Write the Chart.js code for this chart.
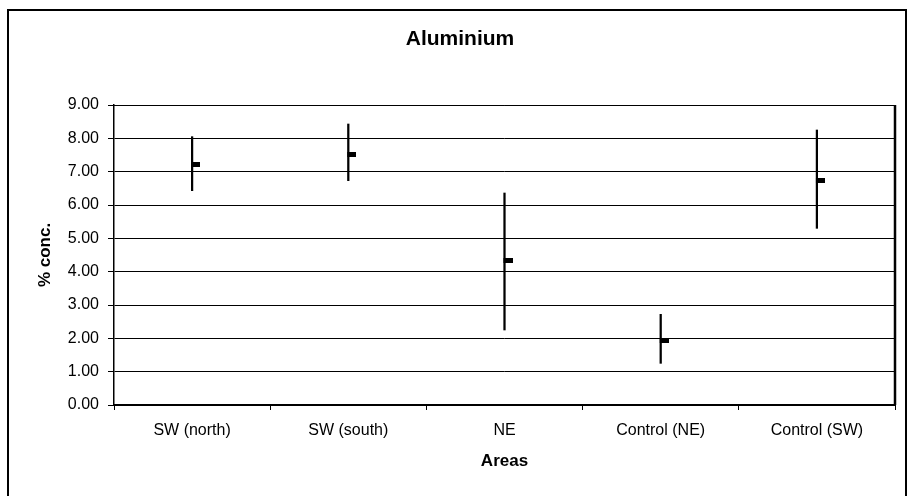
<!DOCTYPE html>
<html>
<head>
<meta charset="utf-8">
<title>Aluminium</title>
<script src="https://cdn.jsdelivr.net/npm/chart.js@4"></script>
<style>
  html, body { margin: 0; padding: 0; background: #fff; }
  #wrap { width: 908px; height: 496px; position: relative; }
</style>
</head>
<body>
<div id="wrap"><canvas id="js-chartjs-aluminium"></canvas></div>
<script>
// Chart data
const areas = ['SW (north)', 'SW (south)', 'NE', 'Control (NE)', 'Control (SW)'];
const highValues = [8.05, 8.43, 6.36, 2.72, 8.25];
const lowValues = [6.43, 6.73, 2.25, 1.25, 5.30];
const meanValues = [7.23, 7.52, 4.33, 1.95, 6.73];
const yTickValues = [0, 1, 2, 3, 4, 5, 6, 7, 8, 9];

const fontFamily = '"Liberation Sans", Arial, sans-serif';

// Small black dash used as the mean marker (sits just right of the line)
const markerCanvas = document.createElement('canvas');
markerCanvas.width = 16;
markerCanvas.height = 5;
const mctx = markerCanvas.getContext('2d');
mctx.fillStyle = '#000';
mctx.fillRect(7, 0, 9, 5);

// Frame, plot border and titles
const frameAndTitles = {
  id: 'frameAndTitles',
  beforeDraw(chart) {
    const ctx = chart.ctx;
    ctx.save();
    ctx.fillStyle = '#fff';
    ctx.fillRect(0, 0, chart.width, chart.height);
    ctx.restore();
  },
  afterDraw(chart) {
    const ctx = chart.ctx;
    const area = chart.chartArea;
    ctx.save();
    // outer frame
    ctx.strokeStyle = '#000';
    ctx.lineWidth = 2;
    ctx.strokeRect(8, 10, 898, 500);
    // plot area border
    ctx.lineWidth = 1;
    ctx.beginPath();
    ctx.moveTo(area.left, area.top + 0.5);
    ctx.lineTo(area.right, area.top + 0.5);
    ctx.stroke();
    ctx.lineWidth = 2.5;
    ctx.beginPath();
    ctx.moveTo(area.right, area.top);
    ctx.lineTo(area.right, area.bottom);
    ctx.stroke();

    ctx.fillStyle = '#000';
    ctx.textAlign = 'center';
    ctx.textBaseline = 'middle';
    ctx.font = 'bold 21px ' + fontFamily;
    ctx.fillText('Aluminium', 460, 39);
    ctx.font = 'bold 17px ' + fontFamily;
    ctx.fillText('Areas', (area.left + area.right) / 2, 461);
    ctx.translate(45, (area.top + area.bottom) / 2);
    ctx.rotate(-Math.PI / 2);
    ctx.fillText('% conc.', 0, 0);
    ctx.restore();
  }
};

const rangeData = areas.map((a, i) => [lowValues[i], highValues[i]]);

const chartCon = document.getElementById('js-chartjs-aluminium');

new Chart(chartCon, {
  type: 'bar',
  data: {
    labels: areas,
    datasets: [
      {
        label: 'Range',
        data: rangeData,
        backgroundColor: '#000',
        borderWidth: 0,
        barThickness: 1.6,
        order: 2
      },
      {
        type: 'line',
        label: 'Mean',
        data: meanValues,
        showLine: false,
        pointStyle: markerCanvas,
        pointRadius: 5,
        order: 1
      }
    ]
  },
  options: {
    responsive: true,
    maintainAspectRatio: false,
    animation: false,
    devicePixelRatio: 1,
    layout: { padding: { top: 105, right: 13, left: 0, bottom: 0 } },
    plugins: {
      legend: { display: false },
      title: { display: false },
      tooltip: { enabled: false }
    },
    scales: {
      x: {
        type: 'category',
        offset: true,
        grid: {
          offset: true,
          drawOnChartArea: false,
          drawTicks: true,
          tickLength: 5,
          color: '#000'
        },
        border: { color: '#000', width: 2 },
        ticks: {
          color: '#000',
          font: { family: fontFamily, size: 16 },
          padding: 11,
          maxRotation: 0,
          autoSkip: false
        },
        afterFit(scale) { scale.height = 91; }
      },
      y: {
        min: 0,
        max: 9,
        afterBuildTicks(scale) {
          scale.ticks = yTickValues.map(v => ({ value: v }));
        },
        grid: {
          color: '#000',
          lineWidth: 1,
          tickLength: 6
        },
        border: { color: '#000', width: 1.5 },
        ticks: {
          color: '#000',
          font: { family: fontFamily, size: 16 },
          padding: 9,
          callback: v => Number(v).toFixed(2)
        },
        afterFit(scale) { scale.width = 114; }
      }
    }
  },
  plugins: [frameAndTitles]
});
</script>
</body>
</html>
